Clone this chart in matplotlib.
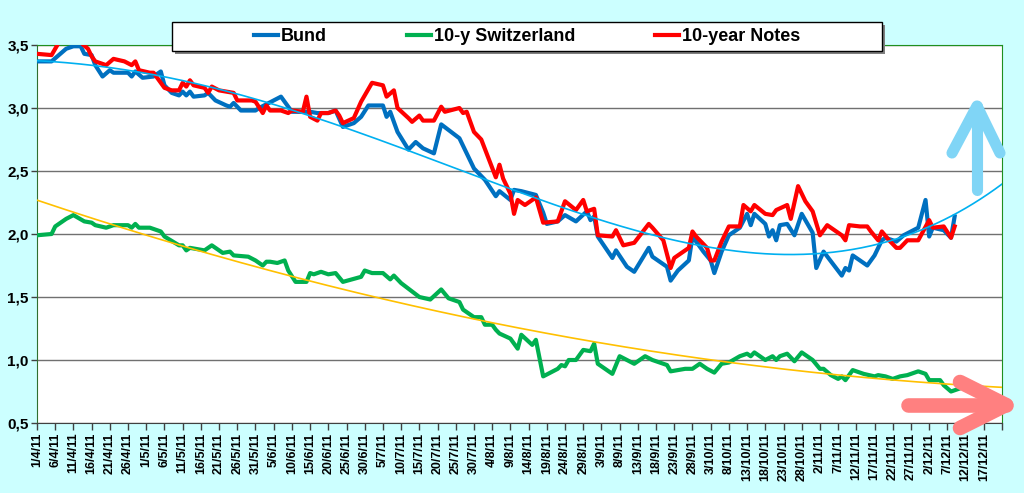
import numpy as np
import matplotlib
matplotlib.use("Agg")
import matplotlib.pyplot as plt
import matplotlib.dates as mdates
from matplotlib.patches import Rectangle
from matplotlib.lines import Line2D
from matplotlib.ticker import FuncFormatter, MultipleLocator

plt.rcParams['font.family'] = ['Liberation Sans', 'DejaVu Sans']
plt.rcParams['font.weight'] = 'bold'

START = np.datetime64('2011-04-01')
END_DAY = 265  # 22/12/11

# days after 1/4/11 and yields (%)
bund_days = [0, 4, 6, 8, 10, 12, 13, 15, 16, 18, 20, 21, 25, 26, 27, 29, 32, 34, 35, 37,
             39, 40, 41, 42, 43, 46, 47, 49, 52, 53, 54, 56, 60, 61, 67, 70, 75, 77, 80, 82,
             84, 87, 89, 91, 95, 96, 97, 99, 102, 104, 106, 109, 111, 116, 118, 120, 123, 126, 127, 130,
             131, 133, 137, 139, 140, 143, 145, 148, 151, 152, 153, 154, 158, 159, 162, 164, 168, 169, 173, 174,
             176, 179, 180, 183, 185, 186, 188, 190, 193, 195, 196, 197, 200, 201, 202, 203, 204, 206, 208, 210,
             213, 214, 216, 221, 222, 223, 224, 228, 230, 232, 233, 236, 238, 242, 244, 245, 246, 249, 251, 252]
bund_vals = [3.37, 3.37, 3.42, 3.47, 3.49, 3.49, 3.43, 3.42, 3.34, 3.25, 3.30, 3.28, 3.28, 3.25, 3.29, 3.24, 3.25, 3.29, 3.18, 3.12,
             3.10, 3.13, 3.10, 3.13, 3.09, 3.10, 3.12, 3.06, 3.02, 3.01, 3.04, 2.98, 2.98, 3.00, 3.09, 2.97, 2.97, 2.96, 2.96, 2.98,
             2.85, 2.88, 2.93, 3.02, 3.02, 2.93, 2.97, 2.81, 2.67, 2.73, 2.68, 2.64, 2.87, 2.76, 2.64, 2.52, 2.43, 2.30, 2.34, 2.27,
             2.35, 2.34, 2.31, 2.17, 2.08, 2.10, 2.15, 2.10, 2.18, 2.11, 2.14, 1.98, 1.81, 1.87, 1.74, 1.70, 1.89, 1.82, 1.74, 1.63,
             1.71, 1.79, 1.98, 1.86, 1.79, 1.69, 1.86, 1.99, 2.05, 2.16, 2.07, 2.16, 2.08, 1.98, 2.03, 1.95, 2.07, 2.08, 1.99, 2.16,
             2.01, 1.73, 1.86, 1.67, 1.73, 1.71, 1.83, 1.75, 1.83, 1.95, 1.97, 1.94, 1.99, 2.05, 2.27, 1.98, 2.05, 2.03, 1.97, 2.14]

swiss_days = [0, 4, 5, 7, 8, 10, 13, 15, 16, 19, 21, 25, 26, 27, 28, 31, 34, 35, 39, 40,
              41, 42, 46, 48, 51, 53, 54, 58, 60, 62, 63, 64, 66, 68, 69, 71, 74, 75, 76, 78,
              80, 82, 84, 89, 90, 92, 95, 97, 98, 100, 105, 108, 111, 113, 116, 117, 120, 122, 123, 125,
              126, 127, 130, 132, 133, 136, 137, 139, 143, 144, 145, 146, 148, 150, 152, 153, 154, 158, 160, 162,
              164, 167, 169, 173, 174, 178, 180, 182, 184, 186, 188, 190, 193, 195, 196, 197, 200, 202, 203, 204,
              206, 208, 210, 213, 215, 216, 218, 220, 221, 222, 224, 227, 230, 231, 233, 235, 237, 239, 242, 244,
              245, 248, 249, 251, 253]
swiss_vals = [1.99, 2.00, 2.06, 2.10, 2.12, 2.15, 2.10, 2.09, 2.07, 2.05, 2.07, 2.07, 2.05, 2.08, 2.05, 2.05, 2.02, 1.98, 1.91, 1.91,
              1.87, 1.89, 1.87, 1.91, 1.85, 1.86, 1.83, 1.82, 1.79, 1.75, 1.78, 1.78, 1.77, 1.79, 1.71, 1.62, 1.62, 1.69, 1.68, 1.70,
              1.68, 1.69, 1.62, 1.66, 1.71, 1.69, 1.69, 1.64, 1.67, 1.61, 1.50, 1.48, 1.56, 1.49, 1.46, 1.40, 1.34, 1.34, 1.28, 1.28,
              1.24, 1.21, 1.17, 1.09, 1.20, 1.12, 1.16, 0.87, 0.93, 0.96, 0.95, 1.00, 1.00, 1.08, 1.07, 1.13, 0.97, 0.89, 1.03, 1.00,
              0.97, 1.03, 1.00, 0.96, 0.91, 0.93, 0.93, 0.97, 0.93, 0.90, 0.97, 0.98, 1.03, 1.05, 1.03, 1.06, 1.00, 1.03, 1.00, 1.03,
              1.05, 0.99, 1.06, 1.00, 0.93, 0.93, 0.88, 0.85, 0.87, 0.84, 0.92, 0.89, 0.87, 0.88, 0.87, 0.85, 0.87, 0.88, 0.91, 0.89,
              0.84, 0.84, 0.80, 0.75, 0.77]

notes_days = [0, 4, 6, 12, 14, 15, 16, 19, 21, 24, 26, 27, 28, 31, 32, 35, 37, 39, 40, 41,
              42, 43, 46, 47, 48, 50, 54, 55, 59, 60, 62, 63, 64, 67, 69, 70, 73, 74, 75, 77,
              78, 80, 82, 83, 84, 87, 89, 92, 95, 96, 98, 99, 102, 103, 105, 106, 109, 111, 112, 116,
              117, 118, 120, 122, 124, 126, 127, 128, 130, 131, 132, 134, 137, 139, 143, 145, 148, 150, 151, 153,
              154, 158, 159, 161, 164, 168, 169, 172, 174, 175, 179, 180, 181, 184, 185, 186, 188, 190, 193, 194,
              196, 197, 200, 202, 203, 206, 207, 209, 211, 213, 215, 217, 221, 222, 223, 226, 228, 229, 231, 232,
              234, 236, 237, 239, 242, 245, 246, 249, 251, 252]
notes_vals = [3.43, 3.42, 3.52, 3.52, 3.47, 3.41, 3.37, 3.34, 3.39, 3.37, 3.34, 3.37, 3.30, 3.28, 3.28, 3.16, 3.14, 3.14, 3.20, 3.17,
              3.22, 3.18, 3.16, 3.12, 3.17, 3.14, 3.12, 3.06, 3.06, 3.05, 2.96, 3.02, 2.98, 2.98, 2.96, 2.98, 2.97, 3.09, 2.93, 2.90,
              2.96, 2.96, 2.98, 2.94, 2.88, 2.92, 3.05, 3.20, 3.18, 3.09, 3.14, 3.00, 2.92, 2.89, 2.94, 2.90, 2.90, 3.01, 2.97, 3.00,
              2.96, 2.97, 2.81, 2.75, 2.60, 2.45, 2.55, 2.44, 2.32, 2.16, 2.27, 2.23, 2.29, 2.09, 2.10, 2.26, 2.19, 2.27, 2.18, 2.20,
              1.99, 1.98, 2.03, 1.91, 1.93, 2.08, 2.05, 1.95, 1.73, 1.81, 1.89, 2.02, 1.98, 1.89, 1.79, 1.79, 1.94, 2.06, 2.06, 2.23,
              2.18, 2.23, 2.16, 2.15, 2.19, 2.23, 2.12, 2.38, 2.26, 2.18, 1.99, 2.07, 1.99, 1.95, 2.07, 2.06, 2.06, 2.02, 1.95, 2.02,
              1.95, 1.89, 1.89, 1.95, 1.95, 2.11, 2.05, 2.06, 1.97, 2.06]


def to_dates(days):
    return START + np.array(days, dtype='timedelta64[D]')


X0 = mdates.date2num(START)


def date_label(x, pos):
    if x - X0 > END_DAY - 0.5:
        return ''
    d = mdates.num2date(x)
    return '%d/%d/%s' % (d.day, d.month, d.strftime('%y'))


W, H = 1024, 493


def px(x, y):
    return x / W, 1 - y / H


fig = plt.figure(figsize=(W / 100, H / 100), dpi=100, facecolor='#CCFFFF')
ax = fig.add_axes([37 / W, 1 - 423 / H, (1002 - 37) / W, (423 - 45) / H])
ax.set_facecolor('white')

ax.plot(to_dates(bund_days), bund_vals, color='#0070C0', lw=3, solid_joinstyle='round', zorder=3, label='Bund')
ax.plot(to_dates(swiss_days), swiss_vals, color='#00B050', lw=3, solid_joinstyle='round', zorder=3,
        label='10-y Switzerland')
ax.plot(to_dates(notes_days), notes_vals, color='#FF0000', lw=3, solid_joinstyle='round', zorder=4,
        label='10-year Notes')

# trend lines (polynomial fits)
tt = np.linspace(0, END_DAY, 400)
cb = np.polyfit(bund_days, bund_vals, 4)
cs = np.polyfit(swiss_days, swiss_vals, 2)
tdates = START + (tt * 86400).astype('timedelta64[s]')
ax.plot(tdates, np.polyval(cb, tt), color='#00B0F0', lw=1.2, zorder=5)
ax.plot(tdates, np.polyval(cs, tt), color='#FFC000', lw=1.2, zorder=5)

ax.set_ylim(0.5, 3.5)
ax.set_xlim(X0, X0 + END_DAY)
ax.yaxis.set_major_locator(MultipleLocator(0.5))
ax.yaxis.set_major_formatter(FuncFormatter(lambda v, p: ('%.1f' % v).replace('.', ',')))
ax.set_xticks(X0 + np.arange(0, END_DAY + 1, 5))
ax.xaxis.set_major_formatter(FuncFormatter(date_label))
ax.grid(axis='y', color='#707070', lw=1, zorder=1)
ax.tick_params(axis='x', direction='out', length=5, width=1, labelsize=9, rotation=90, pad=2, color='#404040')
ax.tick_params(axis='y', direction='out', length=4, width=1, labelsize=11, pad=2, color='#404040')
for lab in ax.get_xticklabels() + ax.get_yticklabels():
    lab.set_fontweight('bold')

for s in ['left', 'top', 'right']:
    ax.spines[s].set_color('#1F8F1F')
ax.spines['bottom'].set_color('#404040')
ax.spines['left'].set_color('#2F6F2F')

# legend box with shadow
x0, y0 = px(172, 51)
x1, y1 = px(882, 22)
sx, sy = 3 / W, 3 / H
fig.add_artist(Rectangle((x0 + sx, y0 - sy), x1 - x0, y1 - y0, transform=fig.transFigure,
                         facecolor='#808080', edgecolor='none', zorder=6))
fig.add_artist(Rectangle((x0, y0), x1 - x0, y1 - y0, transform=fig.transFigure,
                         facecolor='white', edgecolor='black', lw=1, zorder=7))
leg = fig.legend(loc='center', bbox_to_anchor=((x0 + x1) / 2, (y0 + y1) / 2), ncol=3, frameon=False,
                 prop={'size': 13, 'weight': 'bold'}, handlelength=1.35, handletextpad=0.15,
                 columnspacing=4.4)
leg.set_zorder(8)

# arrows
def arrow(pts, color, lw):
    xs, ys = zip(*[px(x, y) for x, y in pts])
    fig.add_artist(Line2D(xs, ys, transform=fig.transFigure, color=color, lw=lw,
                          solid_capstyle='round', solid_joinstyle='round', zorder=9))

arrow([(977, 190), (977, 106)], '#80D5F6', 8)
arrow([(952, 153), (977, 106), (1000, 153)], '#80D5F6', 8)
arrow([(908, 405), (1006, 405)], '#FF8080', 10.5)
arrow([(960, 382), (1006, 405), (960, 428)], '#FF8080', 10.5)

fig.savefig('out.png', dpi=100, facecolor=fig.get_facecolor())
